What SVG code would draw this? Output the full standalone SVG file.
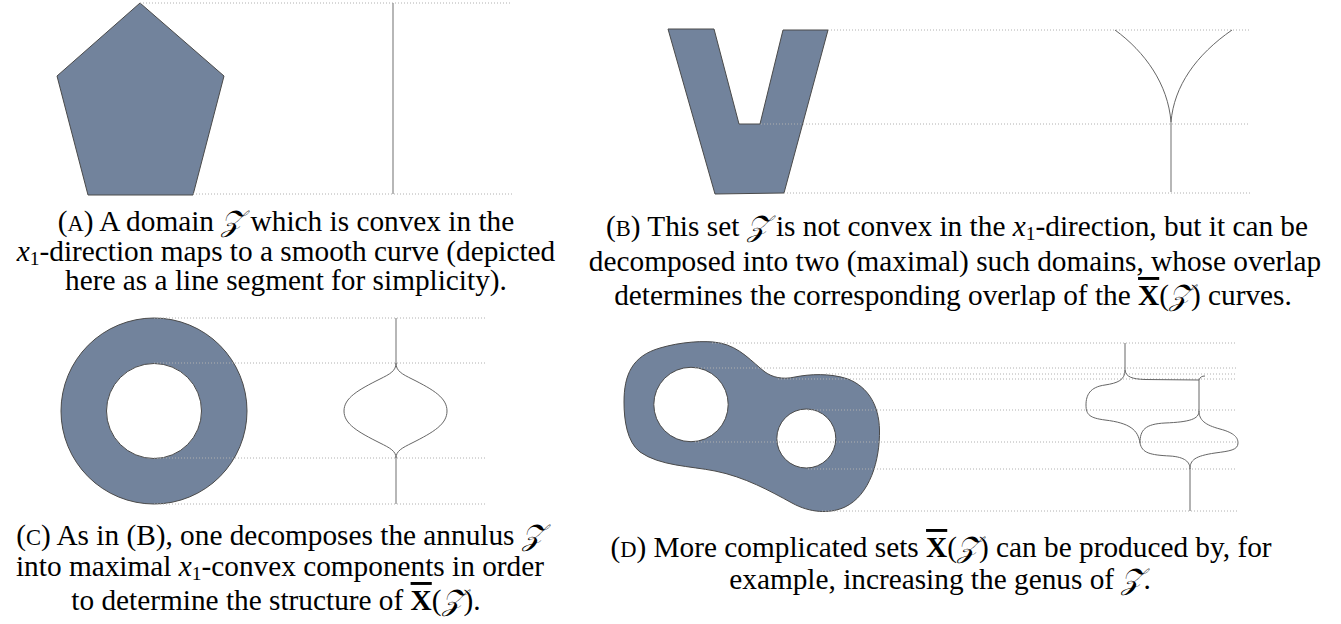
<svg xmlns="http://www.w3.org/2000/svg" width="1341" height="624" viewBox="0 0 1341 624">
<style>
.shape{fill:#72839c;stroke:#4a4a4a;stroke-width:1}
.hole{fill:#fff;stroke:#4a4a4a;stroke-width:1}
.guide{stroke:#b0b0b0;stroke-width:1;stroke-dasharray:1 2;fill:none}
.curve{stroke:#666;stroke-width:1;fill:none}
.stem{stroke:#999;stroke-width:1.4;fill:none}
.cap{font-family:"Liberation Serif","Times New Roman","DejaVu Serif",serif;font-size:29.3px;fill:#000;text-anchor:middle}
.sc{font-size:22.5px}
.it{font-style:italic}
.sub{font-size:19.5px}
.xb{font-weight:bold;text-decoration:overline}
</style>
<rect width="1341" height="624" fill="#fff"/>

<g id="panelA">
  <polygon class="shape" points="140,3 224,76 193,195 88,195 57,76"/>
  <g class="guides">
    <line class="guide" x1="140" y1="3" x2="512" y2="3"/>
    <line class="guide" x1="193" y1="194" x2="512" y2="194"/>
  </g>
  <line class="stem" x1="393" y1="3" x2="393" y2="194"/>
</g>

<g id="panelB">
  <polygon class="shape" points="668,29 714,29 739,124 760,124 783,30 828,30 784,193 715,194"/>
  <g class="guides">
    <line class="guide" x1="828" y1="30" x2="1250" y2="30"/>
    <line class="guide" x1="761" y1="124" x2="1250" y2="124"/>
    <line class="guide" x1="784" y1="193" x2="1250" y2="193"/>
  </g>
  <path class="curve" d="M1115,30 C1145,52 1168,84 1171,122 M1232,30 C1196,55 1174,86 1171,122"/>
  <line class="stem" x1="1171" y1="122" x2="1171" y2="192"/>
</g>

<g id="panelC">
  <circle class="shape" cx="154" cy="411" r="93"/>
  <circle class="hole" cx="154" cy="411" r="47.5"/>
  <g class="guides">
    <line class="guide" x1="154" y1="318" x2="485" y2="318"/>
    <line class="guide" x1="154" y1="363" x2="485" y2="363"/>
    <line class="guide" x1="154" y1="458" x2="485" y2="458"/>
    <line class="guide" x1="154" y1="504" x2="485" y2="504"/>
  </g>
  <path class="curve" d="M396,363 C396,371 390,374 380,379 C358,390 344,398 344,411 C344,424 358,432 380,443 C390,448 396,451 396,458 M396,363 C396,371 402,374 412,379 C434,390 447,398 447,411 C447,424 434,432 412,443 C402,448 396,451 396,458"/>
  <path class="stem" d="M396,318 L396,363 M396,458 L396,504"/>
</g>

<g id="panelD">
  <path class="shape" d="M624,402 C624,375 632,356 660,348 C680,342 705,340 720,343 C740,347 752,362 765,372 C772,377 782,380 795,377 C810,374 830,373 848,379 C868,387 879,405 879.5,430 C880,460 870,495 845,507 C830,514 810,513 792,503 C770,491 745,477 715,471 C690,466 660,466 640,452 C627,442 624,420 624,402 Z"/>
  <circle class="hole" cx="691" cy="404.5" r="37.2"/>
  <circle class="hole" cx="806.3" cy="438.5" r="29.5"/>
  <g class="guides">
    <line class="guide" x1="712" y1="343" x2="1237" y2="343"/>
    <line class="guide" x1="695" y1="368" x2="1237" y2="368"/>
    <line class="guide" x1="826" y1="374" x2="1237" y2="374"/>
    <line class="guide" x1="778" y1="379" x2="1237" y2="379"/>
    <line class="guide" x1="808" y1="410" x2="1237" y2="410"/>
    <line class="guide" x1="695" y1="442" x2="1237" y2="442"/>
    <line class="guide" x1="808" y1="469" x2="1237" y2="469"/>
    <line class="guide" x1="822" y1="511" x2="1237" y2="511"/>
  </g>
  <path class="curve" d="M1125,343 L1125,370
    C1125,380 1118,383 1105,385 C1090,387 1086,395 1086,405 C1086,415 1090,418 1105,420 C1130,423 1138,430 1140,443
    C1142,453 1150,455 1170,456 C1185,457 1190,462 1190,469 L1190,511
    M1125,370 C1126,377 1132,379 1145,379.5 L1199,380 M1199,380 C1200,377 1202,376 1205,376
    M1199,380 L1199,411
    C1199,419 1190,422 1165,423 C1145,424 1140,430 1140,443
    M1199,411 C1199,420 1205,425 1220,429 C1235,433 1238,438 1238,443 C1238,450 1230,451 1215,453 C1195,456 1190,460 1190,469"/>
</g>

<g id="captionA">
  <text class="cap" x="286" y="231">(<tspan class="sc">A</tspan>) A domain <tspan class="it">𝒵</tspan> which is convex in the</text>
  <text class="cap" x="286" y="261"><tspan class="it">x</tspan><tspan class="sub" dy="4">1</tspan><tspan dy="-4">-direction maps to a smooth curve (depicted</tspan></text>
  <text class="cap" x="286" y="290">here as a line segment for simplicity).</text>
</g>

<g id="captionB">
  <text class="cap" x="957" y="236">(<tspan class="sc">B</tspan>) This set <tspan class="it">𝒵</tspan> is not convex in the <tspan class="it">x</tspan><tspan class="sub" dy="4">1</tspan><tspan dy="-4">-direction, but it can be</tspan></text>
  <text class="cap" x="955" y="271">decomposed into two (maximal) such domains, whose overlap</text>
  <text class="cap" x="953" y="305">determines the corresponding overlap of the <tspan class="xb">X</tspan>(<tspan class="it">𝒵</tspan>) curves.</text>
</g>

<g id="captionC">
  <text class="cap" x="280" y="545">(<tspan class="sc">C</tspan>) As in (B), one decomposes the annulus <tspan class="it">𝒵</tspan></text>
  <text class="cap" x="280" y="576">into maximal <tspan class="it">x</tspan><tspan class="sub" dy="4">1</tspan><tspan dy="-4">-convex components in order</tspan></text>
  <text class="cap" x="276" y="610">to determine the structure of <tspan class="xb">X</tspan>(<tspan class="it">𝒵</tspan>).</text>
</g>

<g id="captionD">
  <text class="cap" x="941" y="557">(<tspan class="sc">D</tspan>) More complicated sets <tspan class="xb">X</tspan>(<tspan class="it">𝒵</tspan>) can be produced by, for</text>
  <text class="cap" x="940" y="589">example, increasing the genus of <tspan class="it">𝒵</tspan>.</text>
</g>
</svg>
